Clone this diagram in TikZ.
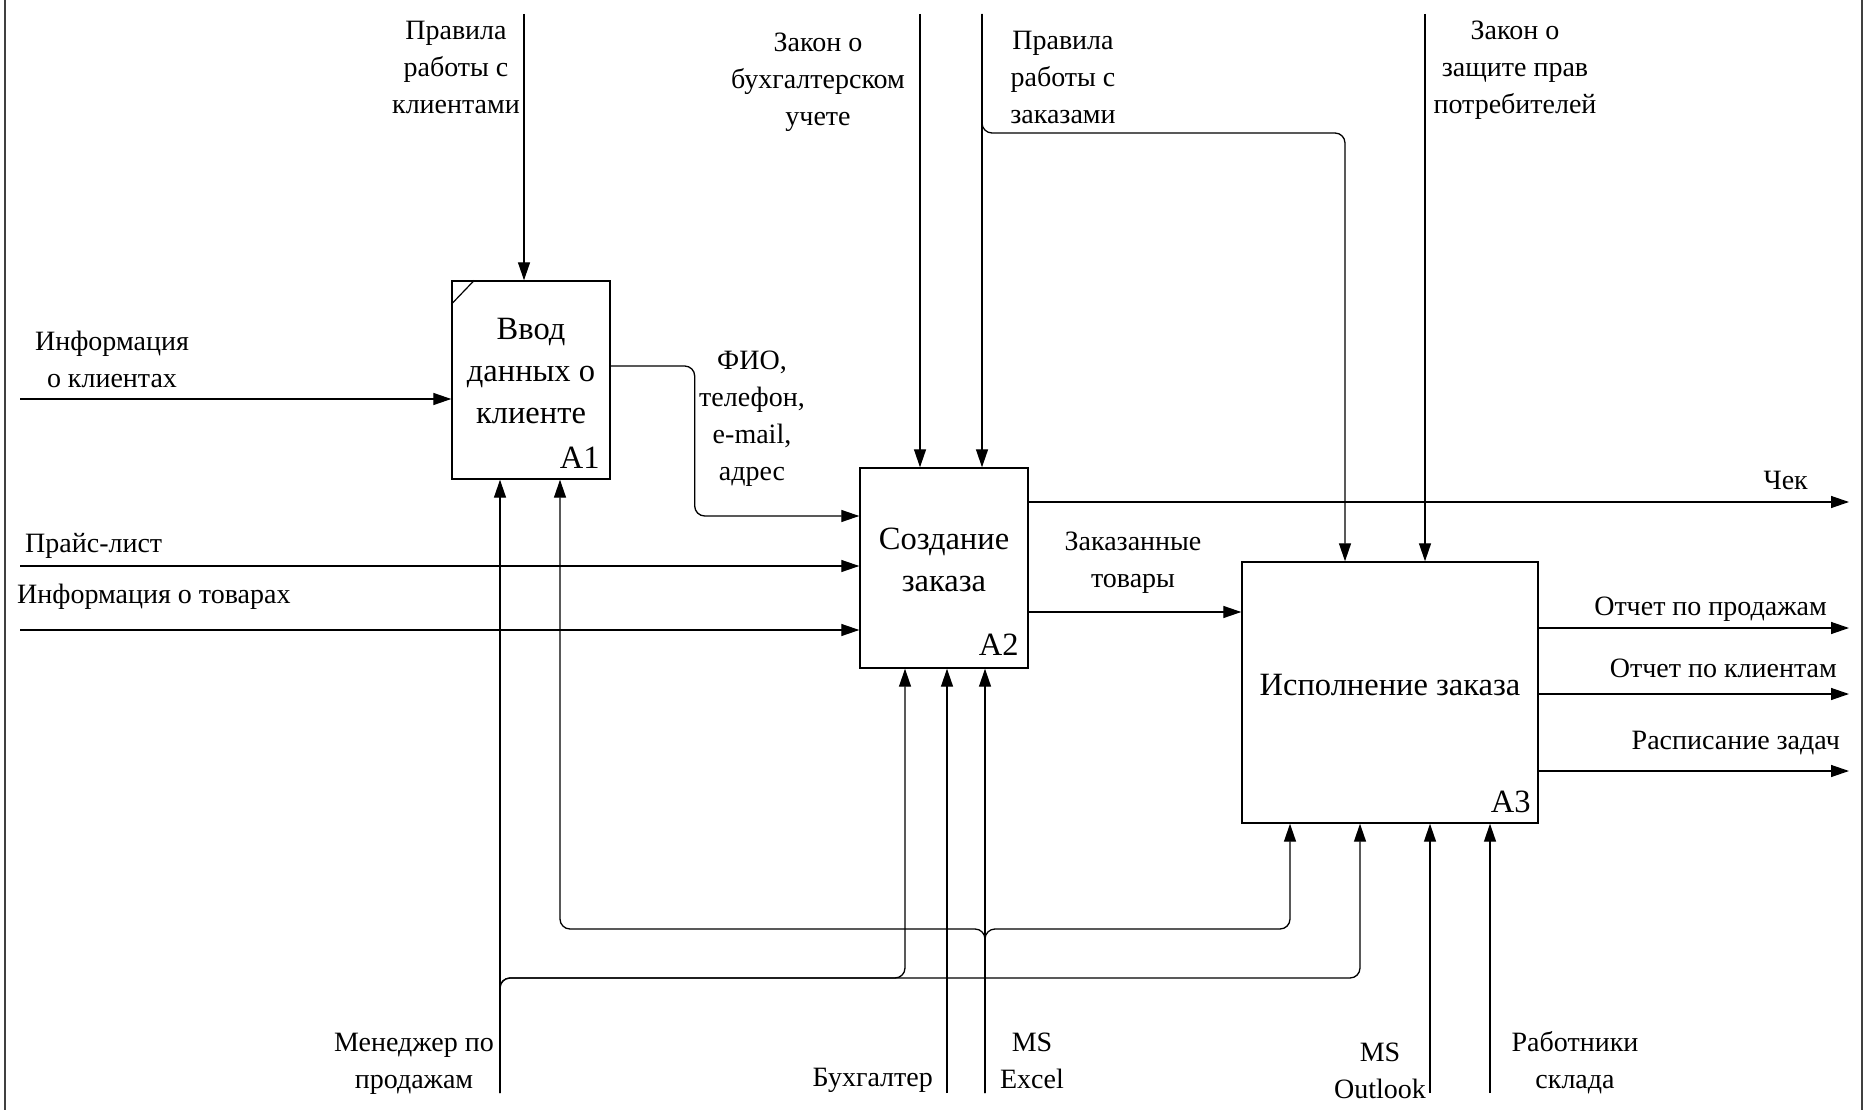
\documentclass[tikz,border=0pt]{standalone}
\usepackage{fontspec}
\setmainfont{Liberation Serif}
\usetikzlibrary{arrows.meta,positioning,calc}

\begin{document}
\begin{tikzpicture}[
    x=1pt, y=-1pt,
    font=\fontsize{28}{37}\selectfont,
    blok/.style={draw, line width=1.4pt, inner sep=0pt},
    bloktext/.style={font=\fontsize{32.5}{42}\selectfont, align=center},
    nomer/.style={font=\fontsize{32.5}{42}\selectfont, anchor=base east, inner sep=0pt},
    metka/.style={align=center, anchor=base, inner sep=0pt},
    arr/.style={-{Triangle[length=18pt,width=12pt]}, line width=1.3pt},
    svyaz/.style={line width=1.3pt, rounded corners=10pt}
  ]
    \useasboundingbox (0,0) rectangle (1864,1110);
    \draw[line width=2pt, black!75] (5,0) -- (5,1110);
    \draw[line width=2pt, black!75] (1862,0) -- (1862,1110);

    % functional blocks
    \node[blok, minimum width=158pt, minimum height=198pt] (a1) at (531,380) {};
    \node[blok, minimum width=168pt, minimum height=200pt] (a2) at (944,568) {};
    \node[blok, minimum width=296pt, minimum height=261pt] (a3) at (1390,692.5) {};
    \draw[line width=1.2pt] ([yshift=-24pt]a1.north west) -- ([xshift=23pt]a1.north west);

    \node[bloktext] (a1txt) at ([yshift=9pt]a1.center) {Ввод\\данных о\\клиенте};
    \node[bloktext] (a2txt) at ([yshift=8pt]a2.center) {Создание\\заказа};
    \node[bloktext] (a3txt) at ([yshift=7pt]a3.center) {Исполнение заказа};
    \node[nomer] (a1num) at ([shift={(-11,-11)}]a1.south east) {A1};
    \node[nomer] (a2num) at ([shift={(-10,-13)}]a2.south east) {A2};
    \node[nomer] (a3num) at ([shift={(-8,-11)}]a3.south east) {A3};

    % free ends
    \coordinate (c1) at (524,14);
    \coordinate (c2) at (920,14);
    \coordinate (c3) at (982,14);
    \coordinate (c3b) at (1345,133);
    \coordinate (c4) at (1425,14);
    \coordinate (i1) at (20,399);
    \coordinate (i2) at (20,566);
    \coordinate (i3) at (20,630);
    \coordinate (o1) at (1849,502);
    \coordinate (o2) at (1849,628);
    \coordinate (o3) at (1849,694);
    \coordinate (o4) at (1849,771);
    \coordinate (m1) at (500,1093);
    \coordinate (m1a) at (905,978);
    \coordinate (m1b) at (1360,978);
    \coordinate (m2) at (947,1093);
    \coordinate (m3) at (985,1093);
    \coordinate (m3a) at (560,929);
    \coordinate (m3b) at (1290,929);
    \coordinate (m4) at (1430,1093);
    \coordinate (m5) at (1490,1093);

    % controls
    \draw[arr] (c1) -- (c1 |- a1.north);
    \draw[arr] (c2) -- (c2 |- a2.north);
    \draw[arr] (c3) -- (c3 |- a2.north);
    \draw[arr, svyaz] (c3) |- (c3b) -- (c3b |- a3.north);
    \draw[arr] (c4) -- (c4 |- a3.north);

    % inputs and outputs
    \draw[arr] (i1) -- (i1 -| a1.west);
    \draw[arr, svyaz] ([yshift=14pt]a1.east) -- ++(84,0) |- ([yshift=52pt]a2.west);
    \draw[arr] (i2) -- (i2 -| a2.west);
    \draw[arr] (i3) -- (i3 -| a2.west);
    \draw[arr] (o1 -| a2.east) -- (o1);
    \draw[arr] ([yshift=-44pt]a2.east) -- ([yshift=-44pt]a2.east -| a3.west);
    \draw[arr] (o2 -| a3.east) -- (o2);
    \draw[arr] (o3 -| a3.east) -- (o3);
    \draw[arr] (o4 -| a3.east) -- (o4);

    % mechanisms
    \draw[arr] (m1) -- (m1 |- a1.south);
    \draw[arr, svyaz] (m1) |- (m1a) -- (m1a |- a2.south);
    \draw[arr, svyaz] (m1) |- (m1b) -- (m1b |- a3.south);
    \draw[arr] (m2) -- (m2 |- a2.south);
    \draw[arr] (m3) -- (m3 |- a2.south);
    \draw[arr, svyaz] (m3) |- (m3a) -- (m3a |- a1.south);
    \draw[arr, svyaz] (m3) |- (m3b) -- (m3b |- a3.south);
    \draw[arr] (m4) -- (m4 |- a3.south);
    \draw[arr] (m5) -- (m5 |- a3.south);

    % labels (base = last line)
    \node[metka] (l1) at (456,114) {Правила\\работы с\\клиентами};
    \node[metka] (l2) at (818,126) {Закон о\\бухгалтерском\\учете};
    \node[metka] (l3) at (1063,124) {Правила\\работы с\\заказами};
    \node[metka] (l4) at (1515,114) {Закон о\\защите прав\\потребителей};
    \node[metka] (l5) at (112,387) {Информация\\о клиентах};
    \node[metka, anchor=base west] (l6) at (25,552) {Прайс-лист};
    \node[metka, anchor=base west] (l7) at (17,603) {Информация о товарах};
    \node[metka] (l8) at (752,480) {ФИО,\\телефон,\\e-mail,\\адрес};
    \node[metka, anchor=base east] (l9) at (1808,489) {Чек};
    \node[metka] (l10) at (1133,587) {Заказанные\\товары};
    \node[metka, anchor=base east] (l11) at (1827,615) {Отчет по продажам};
    \node[metka, anchor=base east] (l12) at (1837,677) {Отчет по клиентам};
    \node[metka, anchor=base east] (l13) at (1840,749) {Расписание задач};
    \node[metka] (l14) at (414,1088) {Менеджер по\\продажам};
    \node[metka, anchor=base east] (l15) at (933,1086) {Бухгалтер};
    \node[metka] (l16) at (1032,1088) {MS\\Excel};
    \node[metka] (l17) at (1380,1098) {MS\\Outlook};
    \node[metka] (l18) at (1575,1088) {Работники\\склада};
\end{tikzpicture}
\end{document}
